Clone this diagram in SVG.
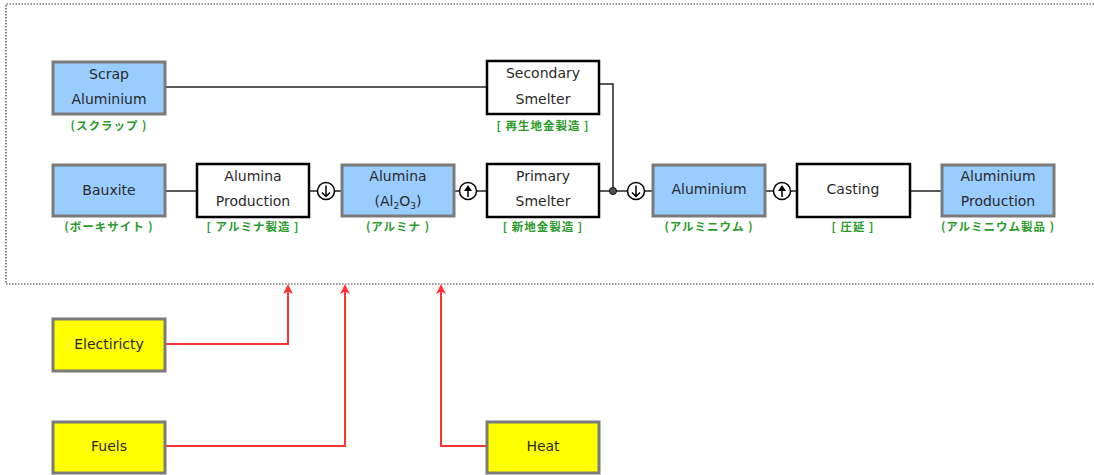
<svg xmlns="http://www.w3.org/2000/svg" width="1094" height="475" viewBox="0 0 1094 475">
<style>
.frame{fill:none;stroke:#333;stroke-width:1.2;stroke-dasharray:1.5 1.5}
.mat{fill:#99ccff;stroke:#7a7a7a;stroke-width:3}
.res{fill:#ffff00;stroke:#7a7a7a;stroke-width:3}
.proc{fill:#fff;stroke:#000;stroke-width:2.5}
.t{font-family:"DejaVu Sans",sans-serif;font-size:14px;fill:#2a2a2a;text-anchor:middle}
.j{font-family:"Noto Sans CJK JP",sans-serif;font-size:11.5px;font-weight:bold;fill:#2a9a2a;text-anchor:middle;letter-spacing:1px}
.ln{fill:none;stroke:#222;stroke-width:1.5}
.rd{fill:none;stroke:#ff3333;stroke-width:2}
.cir{fill:#fff;stroke:#000;stroke-width:1.5}
.arr{fill:none;stroke:#000;stroke-width:1.5}
</style>
<defs>
<marker id="ra" markerWidth="10" markerHeight="10" refX="8" refY="5" orient="auto" markerUnits="userSpaceOnUse" viewBox="0 0 10 10">
<path d="M10 5 L0 0 L2.5 5 L0 10 Z" fill="#ff3333"/>
</marker>
<g id="dn"><circle class="cir" r="8.5"/><path class="arr" d="M0 -5.5 V5.5 M-4 1.5 L0 5.5 L4 1.5"/></g>
<g id="up"><circle class="cir" r="8.5"/><path class="arr" d="M0 6 V-4"/><path d="M-4 0 L0 -6 L4 0 Z" fill="#000"/></g>
</defs>
<path class="frame" d="M1094 4 H6 V284 H1094"/>

<g id="connectors">
<path class="ln" d="M165 87 H487"/>
<path class="ln" d="M599 84 H613 V191"/>
<path class="ln" d="M165 191 H197"/>
<path class="ln" d="M309 191 H342"/>
<path class="ln" d="M454 191 H487"/>
<path class="ln" d="M599 191 H653"/>
<path class="ln" d="M765 191 H797"/>
<path class="ln" d="M910 191 H942"/>
<circle cx="613" cy="191" r="3.5" fill="#555" stroke="#000" stroke-width="1"/>
<use href="#dn" x="326" y="191"/>
<use href="#up" x="468" y="191"/>
<use href="#dn" x="636" y="191"/>
<use href="#up" x="782" y="191"/>
<path class="rd" d="M165 344 H288 V286" marker-end="url(#ra)"/>
<path class="rd" d="M165 446 H345 V286" marker-end="url(#ra)"/>
<path class="rd" d="M487 446 H441 V286" marker-end="url(#ra)"/>
</g>

<g id="scrap">
<rect class="mat" x="53" y="62" width="112" height="52"/>
<text class="t" x="109" y="79">Scrap</text>
<text class="t" x="109" y="104">Aluminium</text>
<text class="j" x="109" y="130">(スクラップ )</text>
</g>
<g id="secondary">
<rect class="proc" x="487" y="61" width="112" height="53"/>
<text class="t" x="543" y="78">Secondary</text>
<text class="t" x="543" y="104">Smelter</text>
<text class="j" x="543" y="130">[ 再生地金製造 ]</text>
</g>
<g id="bauxite">
<rect class="mat" x="53" y="165" width="112" height="51"/>
<text class="t" x="109" y="195">Bauxite</text>
<text class="j" x="109" y="231">(ボーキサイト )</text>
</g>
<g id="aluminaProd">
<rect class="proc" x="197" y="164" width="112" height="53"/>
<text class="t" x="253" y="181">Alumina</text>
<text class="t" x="253" y="206">Production</text>
<text class="j" x="253" y="231">[ アルミナ製造 ]</text>
</g>
<g id="alumina">
<rect class="mat" x="342" y="165" width="112" height="51"/>
<text class="t" x="398" y="181">Alumina</text>
<text class="t" x="398" y="206">(Al<tspan font-size="9" dy="3">2</tspan><tspan dy="-3">O</tspan><tspan font-size="9" dy="3">3</tspan><tspan dy="-3">)</tspan></text>
<text class="j" x="398" y="231">(アルミナ )</text>
</g>
<g id="primary">
<rect class="proc" x="487" y="164" width="112" height="53"/>
<text class="t" x="543" y="181">Primary</text>
<text class="t" x="543" y="206">Smelter</text>
<text class="j" x="543" y="231">[ 新地金製造 ]</text>
</g>
<g id="aluminium">
<rect class="mat" x="653" y="165" width="112" height="51"/>
<text class="t" x="709" y="194">Aluminium</text>
<text class="j" x="709" y="231">(アルミニウム )</text>
</g>
<g id="casting">
<rect class="proc" x="797" y="164" width="113" height="53"/>
<text class="t" x="853" y="194">Casting</text>
<text class="j" x="853" y="231">[ 圧延 ]</text>
</g>
<g id="product">
<rect class="mat" x="942" y="165" width="112" height="51"/>
<text class="t" x="998" y="181">Aluminium</text>
<text class="t" x="998" y="206">Production</text>
<text class="j" x="998" y="231">(アルミニウム製品 )</text>
</g>
<g id="electricity">
<rect class="res" x="53" y="319" width="112" height="52"/>
<text class="t" x="109" y="349">Electiricty</text>
</g>
<g id="fuels">
<rect class="res" x="53" y="422" width="112" height="51"/>
<text class="t" x="109" y="451">Fuels</text>
</g>
<g id="heat">
<rect class="res" x="487" y="422" width="112" height="51"/>
<text class="t" x="543" y="451">Heat</text>
</g>
</svg>
